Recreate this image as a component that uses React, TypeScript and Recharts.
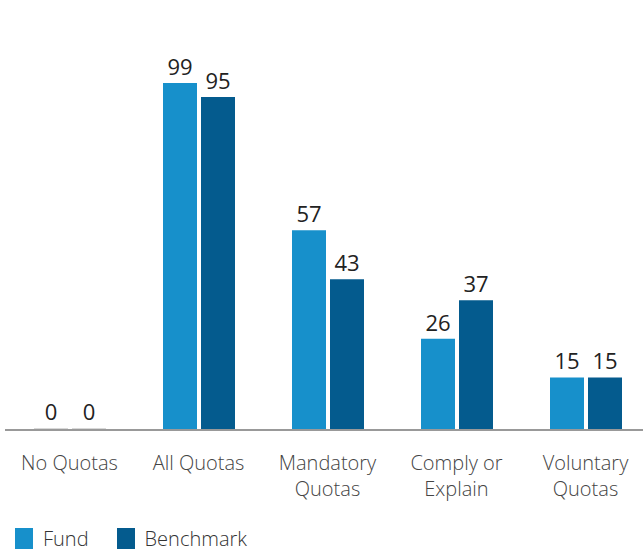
import { BarChart, Bar, XAxis, YAxis, Legend, LabelList, Rectangle } from "recharts";

const categories = ["No Quotas", "All Quotas", "Mandatory\nQuotas", "Comply or\nExplain", "Voluntary\nQuotas"];
const fundValues = [0, 99, 57, 26, 15];
const benchmarkValues = [0, 95, 43, 37, 15];

const FUND = "#1790cb";
const BENCH = "#045b8e";
const FONT = "'Open Sans', 'Noto Sans', sans-serif";

const data = categories.map((c, i) => ({ name: c, fund: fundValues[i], benchmark: benchmarkValues[i] }));

function CategoryTick({ x, y, payload }: any) {
  const lines = String(payload.value).split("\n");
  return (
    <text x={x} y={y} textAnchor="middle" fill="#444" fontSize={20} fontWeight={300} fontFamily={FONT}>
      {lines.map((l, i) => (
        <tspan key={i} x={x} dy={i === 0 ? 32 : 26}>{l}</tspan>
      ))}
    </text>
  );
}

// zero values still get a faint stub so their label shows
function BarShape(props: any) {
  const { value, fill, ...rest } = props;
  return <Rectangle {...rest} fill={value === 0 ? "#d8d8d8" : fill} />;
}

function LegendContent() {
  const items = [{ label: "Fund", color: FUND }, { label: "Benchmark", color: BENCH }];
  return (
    <div style={{ display: "flex", fontFamily: FONT, fontWeight: 300, fontSize: 20, color: "#333" }}>
      {items.map((it) => (
        <div key={it.label} style={{ display: "flex", alignItems: "center", marginRight: 28 }}>
          <span style={{ width: 18, height: 21, background: it.color, display: "inline-block", marginRight: 10 }} />
          {it.label}
        </div>
      ))}
    </div>
  );
}

export default function App() {
  return (
    <div style={{ position: "absolute", left: 0, top: 0, width: 643, height: 551, overflow: "hidden", background: "#fff" }}>
      <BarChart width={650} height={551} data={data} margin={{ top: 83, right: 0, left: 5, bottom: 0 }} barSize={34} barGap={4}>
        <XAxis dataKey="name" axisLine={{ stroke: "#999", strokeWidth: 2 }} tickLine={false} tick={<CategoryTick />} height={91} interval={0} />
        <YAxis hide domain={[0, 99]} />
        <Legend verticalAlign="bottom" align="left" content={<LegendContent />} wrapperStyle={{ left: 15, bottom: -4, height: 30 }} />
        <Bar dataKey="fund" fill={FUND} minPointSize={2} shape={<BarShape />} isAnimationActive={false}>
          <LabelList dataKey="fund" position="top" offset={8} fill="#222" fontSize={22} fontFamily={FONT} />
        </Bar>
        <Bar dataKey="benchmark" fill={BENCH} minPointSize={2} shape={<BarShape />} isAnimationActive={false}>
          <LabelList dataKey="benchmark" position="top" offset={8} fill="#222" fontSize={22} fontFamily={FONT} />
        </Bar>
      </BarChart>
    </div>
  );
}
